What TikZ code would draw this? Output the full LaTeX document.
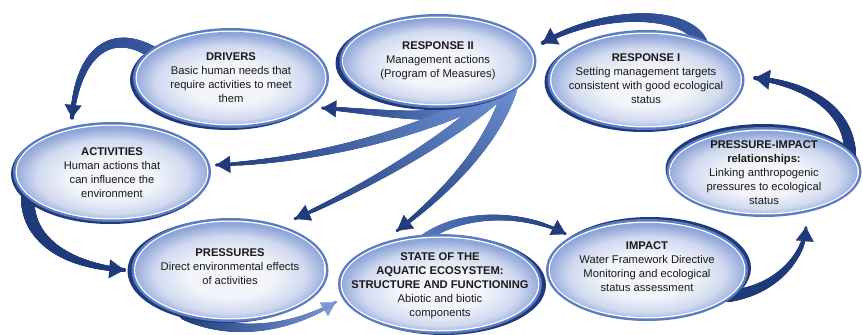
\documentclass[tikz,border=0pt]{standalone}
\usepackage{fontspec}
\setmainfont{Liberation Sans}
\usetikzlibrary{shapes.geometric,arrows.meta,calc,decorations.markings,shadows}

\definecolor{navy}{HTML}{1E3A7B}
\definecolor{ringblue}{HTML}{5A7CC2}
\definecolor{fanroot}{HTML}{7093D3}
\definecolor{softblue}{HTML}{7C9AD6}
\definecolor{midnavy}{HTML}{3A5AA2}
\definecolor{eclight}{HTML}{F3F5FB}
\definecolor{ecmid}{HTML}{D0D9EF}
\definecolor{ecedge}{HTML}{8EA5D8}
\definecolor{txt}{HTML}{1A1A1A}

% soft radial fill of the ellipses, brightest a little below the centre
\pgfdeclareradialshading{ecofill}{\pgfpoint{0bp}{-4bp}}{%
  color(0bp)=(eclight); color(11bp)=(eclight); color(20bp)=(ecmid);
  color(26bp)=(ecedge); color(50bp)=(ecedge)}

\pgfdeclarelayer{arrows}
\pgfsetlayers{arrows,main}

\tikzset{
  % ellipse: width, height, shadow x/y shift (navy rim)
  eco/.style n args={4}{ellipse, inner sep=0pt,
    minimum width=#1pt, minimum height=#2pt, fill=ringblue,
    drop shadow={fill=navy, opacity=1, shadow xshift=#3pt, shadow yshift=#4pt},
    path picture={
      \fill[white] (path picture bounding box.center)
        ellipse [x radius=#1/2-2.5, y radius=#2/2-2.5];
      \shade[shading=ecofill] (path picture bounding box.center)
        ellipse [x radius=#1/2-3.8, y radius=#2/2-3.8];
    }},
  lbl/.style={align=center, inner sep=0pt, text=txt,
    font=\fontsize{11.2}{14}\selectfont},
  % tapered swoosh: start width, end width, start colour, end colour
  swoosh/.style n args={4}{draw=#4, line width=0.3pt,
    postaction={decorate, decoration={markings,
      mark=between positions 0 and 1 step 0.6pt with {
        \pgfmathsetmacro\swfrac{\pgfkeysvalueof{/pgf/decoration/mark info/distance from start}/\pgfdecoratedpathlength}
        \pgfmathsetmacro\swrad{0.5*(#1*(1-\swfrac)+#2*\swfrac)}
        \pgfmathsetmacro\swmix{100*(1-\swfrac)}
        \fill[#3!\swmix!#4] (0,0) circle [radius=\swrad pt];
      }}}},
}

\begin{document}
\begin{tikzpicture}[x=1pt, y=-1pt]
\useasboundingbox (0,0) rectangle (863,335);

% ---- the eight stages ----
\node[eco={196}{100}{-3}{-2}] (drv) at (231,78) {};
\node[eco={197}{94}{-4}{-2}]  (rs2) at (438,61) {};
\node[eco={197}{100}{-3}{-2}] (rs1) at (646,80) {};
\node[eco={198}{100}{-2}{-2}] (act) at (112,172) {};
\node[eco={197}{104}{-4}{-1}] (prs) at (230,270) {};
\node[eco={204}{100}{4}{-1}]  (sta) at (440,284) {};
\node[eco={202}{102}{3}{2}]   (imp) at (647,270) {};
\node[eco={195}{90}{-1}{3}]   (pim) at (764,172) {};

\node[lbl] (drv-t) at (drv) {\textbf{DRIVERS}\\Basic human needs that\\require activities to meet\\them};
\node[lbl] (rs2-t) at ($(rs2)+(0,0)$) {\textbf{RESPONSE II}\\Management actions\\(Program of Measures)};
\node[lbl] (rs1-t) at ($(rs1)+(0,-1.5)$) {\textbf{RESPONSE I}\\Setting management targets\\consistent with good ecological\\status};
\node[lbl] (act-t) at ($(act)+(0,1)$) {\textbf{ACTIVITIES}\\Human actions that\\can influence the\\environment};
\node[lbl] (prs-t) at ($(prs)+(0,-3)$) {\textbf{PRESSURES}\\Direct environmental effects\\of activities};
\node[lbl] (sta-t) at ($(sta)+(0,2)$) {\textbf{STATE OF THE}\\\textbf{AQUATIC ECOSYSTEM:}\\\textbf{STRUCTURE AND FUNCTIONING}\\Abiotic and biotic\\components};
\node[lbl] (imp-t) at ($(imp)+(0,-3.5)$) {\textbf{IMPACT}\\Water Framework Directive\\Monitoring and ecological\\status assessment};
\node[lbl] (pim-t) at ($(pim)+(0,1)$) {\textbf{PRESSURE-IMPACT}\\\textbf{relationships:}\\Linking anthropogenic\\pressures to ecological\\status};

% ---- swoosh arrows, behind the ellipses ----
\begin{pgfonlayer}{arrows}
% cycle
\draw[swoosh={12}{4}{midnavy}{navy}, -{Triangle[length=13pt,width=17pt]}]
  ($(drv)+(-79,-26)$) .. controls (112,28) and (78,50) .. ($(act.north)+(-40,-4)$);
\draw[swoosh={14}{4}{navy}{navy}, -{Triangle[length=15pt,width=19pt]}]
  ($(act)+(-84,23)$) .. controls (25,235) and (60,265) .. ($(prs.west)+(-7,0)$);
\draw[swoosh={12}{3}{navy}{softblue}, -{Triangle[length=14pt,width=16pt]}]
  ($(prs)+(-45,44)$) .. controls (230,337) and (290,330) .. ($(sta.west)+(-2,18)$);
\draw[swoosh={9}{3}{ringblue}{navy}, -{Triangle[length=14pt,width=17pt]}]
  ($(sta.north)+(-20,8)$) .. controls (455,212) and (520,210) .. ($(imp.west)+(20,-36)$);
\draw[swoosh={12}{3}{navy}{navy}, -{Triangle[length=14pt,width=18pt]}]
  ($(imp)+(81,26)$) .. controls (770,292) and (803,262) .. ($(pim.south)+(42,10)$);
\draw[swoosh={12}{4}{navy}{navy}, -{Triangle[length=15pt,width=20pt]}]
  ($(pim)+(86,-14)$) .. controls (852,115) and (815,85) .. ($(rs1.east)+(10,-2)$);
\draw[swoosh={12}{4}{midnavy}{navy}, -{Triangle[length=14pt,width=19pt]}]
  ($(rs1)+(56,-36)$) .. controls (690,10) and (605,8) .. ($(rs2.east)+(6,-18)$);
% fan of management actions
\draw[swoosh={14}{3}{fanroot}{navy}, -{Triangle[length=14pt,width=17pt]}]
  ($(rs2)+(52,31)$) .. controls (460,128) and (390,112) .. ($(drv.east)+(-7,30)$);
\draw[swoosh={14}{3}{fanroot}{navy}, -{Triangle[length=14pt,width=17pt]}]
  ($(rs2)+(57,31)$) .. controls (440,125) and (330,160) .. ($(act.east)+(5,-7)$);
\draw[swoosh={14}{3}{fanroot}{navy}, -{Triangle[length=15pt,width=17pt]}]
  ($(rs2)+(64,29)$) .. controls (450,140) and (360,190) .. ($(prs.north)+(65,1)$);
\draw[swoosh={15}{3}{fanroot}{navy}, -{Triangle[length=15pt,width=17pt]}]
  ($(rs2)+(72,27)$) .. controls (495,140) and (450,190) .. ($(sta.north)+(-43,-3)$);
\end{pgfonlayer}
\end{tikzpicture}
\end{document}
